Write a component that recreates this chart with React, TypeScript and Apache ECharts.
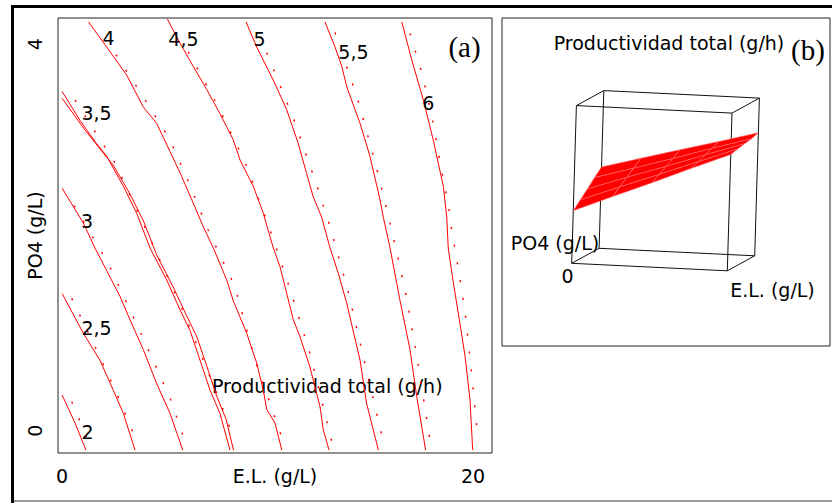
import React, { useEffect, useRef } from "react";
import * as echarts from "echarts";

const FONT = "DejaVu Sans";
const SERIF = "Liberation Serif";

// Panel (a): contour levels of total productivity (g/h) over E.L. (g/L) x PO4 (g/L)
const levelLabels = ["2", "2,5", "3", "3,5", "4", "4,5", "5", "5,5", "6"];
// anchor of each level label [E.L., PO4]
const labelAnchors = [
  [1.26, -0.02], [1.7, 1.06], [1.24, 2.17], [1.7, 3.28], [2.28, 4.06],
  [5.93, 4.05], [9.63, 4.05], [14.2, 3.91], [17.85, 3.39],
];

// solid contour lines, points [E.L., PO4]
const contour2 = [[0, 0.37], [0.63, 0.08], [1.16, -0.2]];
const contour25 = [[0, 1.42], [1.03, 1.01], [1.84, 0.73], [2.49, 0.42], [2.98, 0.18], [3.55, -0.2]];
const contour3 = [[0, 2.51], [1.03, 2.15], [1.6, 1.89], [2.33, 1.59], [2.82, 1.39], [3.3, 1.15], [3.95, 0.84], [4.6, 0.49], [5.25, 0.18], [5.87, -0.2]];
const contour35a = [[0, 3.51], [0.87, 3.21], [1.68, 2.97], [2.17, 2.84], [2.98, 2.53], [3.63, 2.25], [4.28, 1.89], [5.09, 1.56], [5.74, 1.25], [6.22, 1.04], [6.71, 0.73], [7.2, 0.42], [7.68, 0.18], [8.17, -0.2]];
const contour35b = [[0, 3.44], [1.08, 3.12], [1.98, 2.88], [2.48, 2.75], [3.3, 2.45], [3.96, 2.17], [4.6, 1.82], [5.4, 1.49], [6.06, 1.19], [6.56, 0.97], [7.04, 0.67], [7.52, 0.36], [7.98, 0.12], [8.34, -0.2]];
const contour4 = [[1.28, 4.23], [2.17, 3.97], [3.14, 3.68], [3.95, 3.35], [4.6, 3.18], [5.25, 2.89], [5.82, 2.63], [6.31, 2.39], [6.87, 2.11], [7.36, 1.89], [8.01, 1.56], [8.32, 1.35], [8.98, 1.01], [9.47, 0.7], [9.79, 0.42], [9.96, 0.22], [10.36, 0.08], [10.69, -0.2]];
const contour45 = [[5.12, 4.26], [5.74, 4.01], [6.38, 3.77], [7.04, 3.53], [7.68, 3.28], [8.33, 3.01], [8.66, 2.8], [9.3, 2.53], [9.79, 2.25], [10.28, 1.89], [10.6, 1.7], [11.25, 1.15], [11.58, 0.97], [12.06, 0.66], [12.55, 0.25], [12.71, 0.01], [12.99, -0.2]];
const contour5 = [[8.95, 4.23], [9.47, 3.97], [10.36, 3.59], [10.93, 3.32], [11.48, 2.98], [11.9, 2.66], [12.22, 2.42], [12.63, 2.21], [13.04, 1.89], [13.44, 1.63], [13.85, 1.32], [14.5, 0.73], [14.82, 0.28], [15.39, -0.2]];
const contour55 = [[12.79, 4.23], [13.28, 3.97], [13.61, 3.77], [13.85, 3.56], [14.5, 3.18], [14.98, 2.84], [15.47, 2.39], [15.63, 2.21], [15.96, 1.89], [16.44, 1.35], [16.93, 0.84], [17.26, 0.35], [17.69, -0.2]];
const contour6 = [[16.53, 4.23], [17.01, 3.84], [17.58, 3.42], [18.06, 3.01], [18.55, 2.53], [18.72, 2.21], [18.79, 1.89], [19.04, 1.53], [19.36, 1.11], [19.61, 0.77], [19.85, 0.32], [19.98, -0.2]];

// dotted companion contours, points [E.L., PO4]
const dotted2 = [[0.47, 0.3], [1.36, -0.15]];
const dotted25 = [[0.47, 1.37], [1.76, 0.8], [2.73, 0.35], [3.63, -0.11]];
const dotted3 = [[0.58, 2.33], [2.25, 1.73], [3.87, 0.99], [5.25, 0.34], [5.98, -0.11]];
const dotted35 = [[0.63, 3.42], [2.57, 2.77], [4.28, 1.99], [5.9, 1.23], [7.6, 0.35], [8.41, -0.11]];
const dotted4 = [[2.62, 3.89], [3.99, 3.44], [5.25, 3.01], [6.18, 2.56], [7.1, 2.08], [8.41, 1.49], [9.39, 0.73], [10.76, -0.11]];
const dotted45 = [[6.14, 3.92], [7.6, 3.35], [8.9, 2.78], [10.12, 2.08], [11.1, 1.46], [12.06, 0.8], [13.12, -0.11]];
const dotted5 = [[9.96, 3.91], [11.28, 3.22], [12.36, 2.56], [13.04, 2.11], [13.9, 1.46], [14.63, 0.79], [15.63, -0.11]];
const dotted55 = [[13.28, 4.12], [14.37, 3.44], [15.23, 2.78], [16.0, 2.11], [16.69, 1.46], [17.26, 0.78], [17.94, -0.15]];
const dotted6 = [[16.93, 4.11], [17.55, 3.67], [18.03, 3.21], [18.39, 2.78], [18.79, 2.34], [18.96, 2.08], [19.28, 1.68], [19.61, 1.23], [19.93, 0.59], [20.25, -0.11]];

const solidContours = [contour2, contour25, contour3, contour35a, contour35b, contour4, contour45, contour5, contour55, contour6];
const dottedContours = [dotted2, dotted25, dotted3, dotted35, dotted4, dotted45, dotted5, dotted55, dotted6];

const xTicks = [0, 20];
const yTicks = [0, 4];

// Panel (b): response surface, productivity (g/h) at E.L. x PO4 grid
const surfEL = [0, 5, 10, 15, 20];
const surfPO4 = [0, 1, 2, 3, 4];
const surfProd = [
  [1.84, 2.88, 3.91, 4.97, 6.0],
  [2.3, 3.26, 4.2, 5.16, 6.11],
  [2.76, 3.65, 4.48, 5.36, 6.21],
  [3.26, 4.0, 4.75, 5.54, 6.29],
  [3.71, 4.4, 5.08, 5.75, 6.44],
];
const boxEL = [0, 20];
const boxPO4 = [0, 4];
const boxProd = [-1.6, 8.7];

// view (camera) of the 3D box, in panel-b pixel space
const VIEW = {
  origin: [571.7, 263.3],
  u: [155.6, 7.5],
  v: [27.4, -15],
  w: [4.7, -157.7],
};

function project(el: number, po4: number, p: number): number[] {
  const u = (el - boxEL[0]) / (boxEL[1] - boxEL[0]);
  const v = (po4 - boxPO4[0]) / (boxPO4[1] - boxPO4[0]);
  const w = (p - boxProd[0]) / (boxProd[1] - boxProd[0]);
  return [
    VIEW.origin[0] + VIEW.u[0] * u + VIEW.v[0] * v + VIEW.w[0] * w,
    VIEW.origin[1] + VIEW.u[1] * u + VIEW.v[1] * v + VIEW.w[1] * w,
  ];
}

export default function App() {
  const ref = useRef<HTMLDivElement>(null);
  useEffect(() => {
    if (!ref.current) return;
    const chart = echarts.init(ref.current, undefined, { renderer: "svg" });

    const txt = { fontFamily: FONT, fontSize: 19, color: "#000" };

    // box edges
    const corners: number[][] = [];
    for (const a of [0, 1]) for (const b of [0, 1]) for (const c of [0, 1]) corners.push([a, b, c]);
    const edges: number[][] = [];
    for (let i = 0; i < corners.length; i++) {
      for (let j = i + 1; j < corners.length; j++) {
        const d = corners[i].reduce((s, x, k) => s + Math.abs(x - corners[j][k]), 0);
        if (d === 1) {
          const p1 = project(boxEL[corners[i][0]], boxPO4[corners[i][1]], boxProd[corners[i][2]]);
          const p2 = project(boxEL[corners[j][0]], boxPO4[corners[j][1]], boxProd[corners[j][2]]);
          edges.push([p1[0], p1[1], p2[0], p2[1]]);
        }
      }
    }

    const quads: number[][] = [];
    for (let j = surfPO4.length - 2; j >= 0; j--)
      for (let i = 0; i < surfEL.length - 1; i++) quads.push([i, j]);

    const series: any[] = [];
    solidContours.forEach((pts) => {
      series.push({
        type: "line", xAxisIndex: 0, yAxisIndex: 0, data: pts, showSymbol: false, silent: true,
        lineStyle: { color: "#ff0000", width: 1 },
      });
    });
    dottedContours.forEach((pts) => {
      series.push({
        type: "line", xAxisIndex: 0, yAxisIndex: 0, data: pts, showSymbol: false, silent: true,
        lineStyle: { color: "#ff0000", width: 1.5, type: [2, 16] },
      });
    });
    series.push({
      type: "scatter", xAxisIndex: 0, yAxisIndex: 0, symbolSize: 1, silent: true,
      itemStyle: { color: "rgba(255,255,255,0)" },
      data: levelLabels.map((l, k) => ({ value: labelAnchors[k], name: l })),
      label: {
        show: true, position: [0, 0], align: "center", verticalAlign: "middle",
        formatter: "{b}", ...txt, opacity: 1, textBorderWidth: 0,
      },
      z: 5,
    });
    series.push({
      type: "custom", xAxisIndex: 1, yAxisIndex: 1, silent: true, data: edges,
      encode: { x: [0, 2], y: [1, 3] },
      renderItem: (_p: any, api: any) => {
        const a = api.coord([api.value(0), api.value(1)]);
        const b = api.coord([api.value(2), api.value(3)]);
        return { type: "line", shape: { x1: a[0], y1: a[1], x2: b[0], y2: b[1] }, style: { stroke: "#111", lineWidth: 1 } };
      },
      z: 2,
    });
    series.push({
      type: "custom", xAxisIndex: 1, yAxisIndex: 1, silent: true, data: quads,
      encode: { x: 0, y: 1 },
      renderItem: (_p: any, api: any) => {
        const i = api.value(0), j = api.value(1);
        const pts = [
          [i, j], [i + 1, j], [i + 1, j + 1], [i, j + 1],
        ].map(([a, b]) => api.coord(project(surfEL[a], surfPO4[b], surfProd[b][a])));
        return { type: "polygon", shape: { points: pts }, style: { fill: "#ff0000", stroke: "#ff6a6a", lineWidth: 0.6 } };
      },
      z: 3,
    });

    chart.setOption({
      animation: false,
      backgroundColor: "#fff",
      grid: [
        { left: 58, top: 18, width: 434, height: 435, show: true, borderColor: "#222", borderWidth: 1, backgroundColor: "transparent", outerBoundsMode: "none", containLabel: false },
        { left: 502, top: 18, width: 328, height: 328, show: true, borderColor: "#222", borderWidth: 1, backgroundColor: "transparent", outerBoundsMode: "none", containLabel: false },
      ],
      xAxis: [
        {
          gridIndex: 0, type: "value", min: -0.2, max: 20.92,
          axisLine: { show: false }, axisTick: { show: false }, splitLine: { show: false },
          axisLabel: { customValues: xTicks, margin: 13, ...txt },
          name: "E.L. (g/L)", nameLocation: "middle", nameGap: 13, nameMoveOverlap: false, nameTextStyle: txt,
        },
        { gridIndex: 1, type: "value", min: 502, max: 830, show: false, splitLine: { show: false } },
      ],
      yAxis: [
        {
          gridIndex: 0, type: "value", min: -0.23, max: 4.27,
          axisLine: { show: false }, axisTick: { show: false }, splitLine: { show: false },
          axisLabel: { customValues: yTicks, rotate: 90, margin: 14, ...txt },
          name: "PO4 (g/L)", nameLocation: "middle", nameGap: 14, nameRotate: 90, nameMoveOverlap: false, nameTextStyle: txt,
        },
        { gridIndex: 1, type: "value", min: 18, max: 346, inverse: true, show: false, splitLine: { show: false } },
      ],
      graphic: [
        { type: "line", shape: { x1: 11, y1: 6.5, x2: 832, y2: 6.5 }, style: { stroke: "#000", lineWidth: 3 } },
        { type: "line", shape: { x1: 12.5, y1: 5, x2: 12.5, y2: 503 }, style: { stroke: "#000", lineWidth: 3 } },
        { type: "line", shape: { x1: 14, y1: 501, x2: 832, y2: 501 }, style: { stroke: "#9a9a9a", lineWidth: 2 } },
        { type: "text", x: 464.5, y: 47, style: { text: "(a)", fontFamily: SERIF, fontSize: 29, fill: "#000", align: "center", verticalAlign: "middle" } },
        { type: "text", x: 808, y: 50, style: { text: "(b)", fontFamily: SERIF, fontSize: 29, fill: "#000", align: "center", verticalAlign: "middle" } },
        { type: "text", x: 212, y: 386, style: { text: "Productividad total (g/h)", fontFamily: FONT, fontSize: 19, fill: "#000", align: "left", verticalAlign: "middle" } },
        { type: "text", x: 669, y: 43, style: { text: "Productividad total (g/h)", fontFamily: FONT, fontSize: 19, fill: "#000", align: "center", verticalAlign: "middle" } },
        { type: "text", x: 555, y: 243, z: 10, style: { text: "PO4 (g/L)", fontFamily: FONT, fontSize: 19, fill: "#000", align: "center", verticalAlign: "middle" } },
        { type: "text", x: 567.5, y: 276, style: { text: "0", fontFamily: FONT, fontSize: 19, fill: "#000", align: "center", verticalAlign: "middle" } },
        { type: "text", x: 772.5, y: 290, style: { text: "E.L. (g/L)", fontFamily: FONT, fontSize: 19, fill: "#000", align: "center", verticalAlign: "middle" } },
      ],
      series,
    });
    return () => chart.dispose();
  }, []);
  return <div ref={ref} style={{ position: "fixed", left: 0, top: 0, width: 832, height: 503, background: "#fff" }} />;
}
